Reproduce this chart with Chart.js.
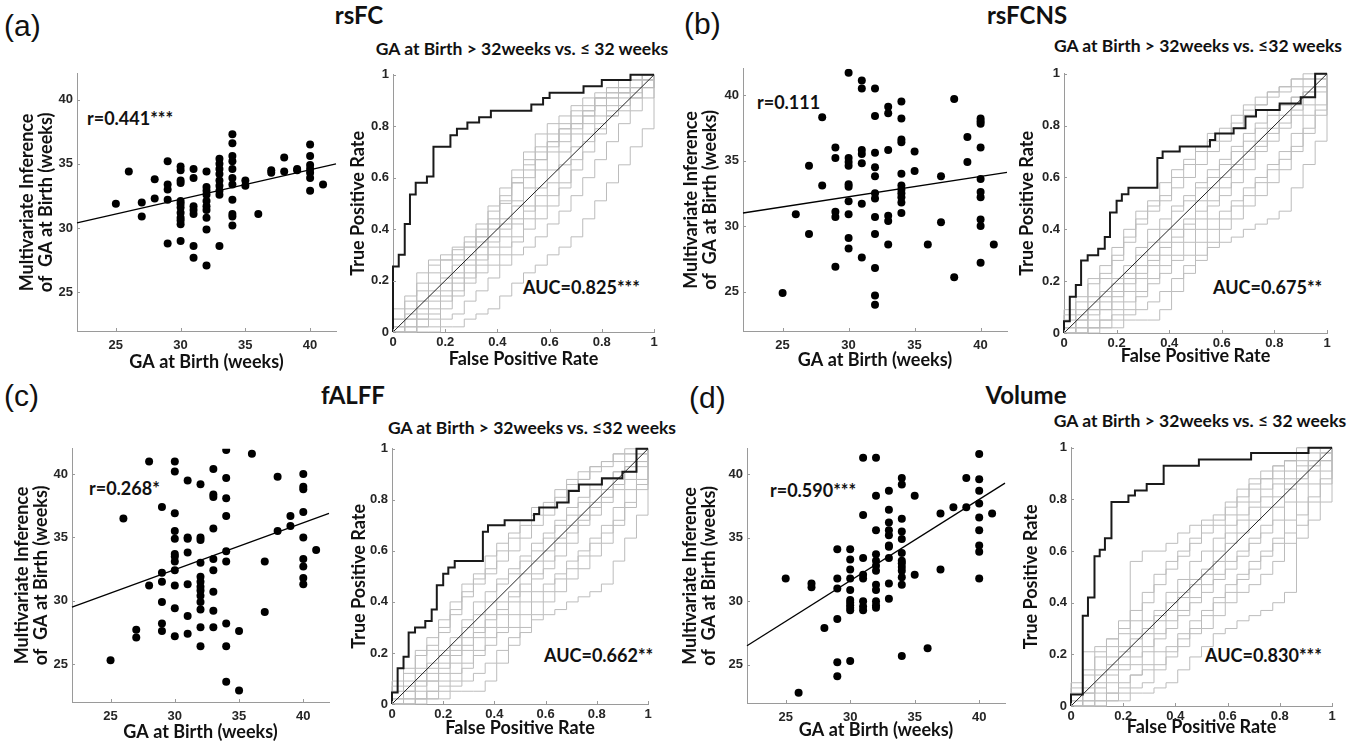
<!DOCTYPE html>
<html>
<head>
<meta charset="utf-8">
<script src="https://cdn.jsdelivr.net/npm/chart.js@4.4.1/dist/chart.umd.min.js"></script>
<style>
  html, body { margin:0; padding:0; background:#fff; }
  body { width:1363px; height:743px; position:relative; overflow:hidden; }
  .t { position:absolute; white-space:nowrap; color:#111; line-height:1; }
  .lab { font: 30px "Liberation Sans", Arial, sans-serif; transform: translateY(-50%); }
  .big { font: bold 24px Lato, "Noto Sans", sans-serif; transform: translate(-50%, -50%); }
  .sub { font: bold 17.5px Lato, "Noto Sans", sans-serif; transform: translate(-50%, -50%); }
  .ann { font: bold 18px Lato, "Noto Sans", sans-serif; transform: translateY(-50%); }
</style>
</head>
<body>
<div class="t lab" style="left:4px;top:26px">(a)</div>
<div class="t lab" style="left:684px;top:24px">(b)</div>
<div class="t lab" style="left:4px;top:396px">(c)</div>
<div class="t lab" style="left:689px;top:398px">(d)</div>

<div class="t big" style="left:359px;top:14px">rsFC</div>
<div class="t big" style="left:1027px;top:14px">rsFCNS</div>
<div class="t big" style="left:353px;top:394px">fALFF</div>
<div class="t big" style="left:1026px;top:394px">Volume</div>

<div class="t sub" style="left:522px;top:48px">GA at Birth &gt; 32weeks vs. ≤ 32 weeks</div>
<div class="t sub" style="left:1198px;top:45px">GA at Birth &gt; 32weeks vs. ≤32 weeks</div>
<div class="t sub" style="left:532px;top:427px">GA at Birth &gt; 32weeks vs. ≤32 weeks</div>
<div class="t sub" style="left:1200px;top:420px">GA at Birth &gt; 32weeks vs. ≤ 32 weeks</div>

<div class="t ann" style="left:87px;top:118px">r=0.441***</div>
<div class="t ann" style="left:757px;top:102px">r=0.111</div>
<div class="t ann" style="left:89px;top:488px">r=0.268*</div>
<div class="t ann" style="left:770px;top:490px">r=0.590***</div>

<div class="t ann" style="left:523px;top:287px">AUC=0.825***</div>
<div class="t ann" style="left:1213px;top:287px">AUC=0.675**</div>
<div class="t ann" style="left:544px;top:655px">AUC=0.662**</div>
<div class="t ann" style="left:1205px;top:655px">AUC=0.830***</div>

<script>
// ---------------- data ----------------
const gaValues = [25,26,27,28,29,30,31,32,33,34,35,36,37,38,39,40,41];
const gaTicks = [25, 30, 35, 40];
const rateTicks = [0, 0.2, 0.4, 0.6, 0.8, 1];
const fitX = [22, 42];

// predicted GA grouped by actual GA at birth (one inner list per value in gaValues)
const predA = [
  [31.9],[34.4],[32.0,30.9],[33.8,32.3],[35.2,33.4,33.0,32.2,28.8],
  [34.8,34.5,33.7,33.5,32.1,31.9,31.6,31.2,30.8,30.6,30.3,29.0],
  [34.6,33.9,31.7,31.4,31.1,28.6,27.7],
  [34.4,33.2,32.9,32.6,32.1,31.7,31.4,30.8,29.9,27.1],
  [35.4,35.0,34.6,34.2,33.7,33.3,32.9,32.6,28.6],
  [37.3,36.6,35.6,35.2,34.6,33.9,33.4,32.2,31.1,30.9,30.2],
  [33.7,33.3],[31.1],[34.5,34.3],[35.5,34.4],[34.6,34.5],
  [36.5,35.6,34.9,34.6,34.3,33.9,32.9],[33.4]
];
const fitA = [30.4, 35.0];

const predB = [
  [24.9],[30.9],[34.6,29.4],[38.3,33.1],[36.0,35.2,31.1,30.7,26.9],
  [41.7,35.2,34.9,34.6,33.2,33.0,31.9,30.9,29.1,28.3],
  [41.1,40.5,35.8,35.5,34.8,31.7,27.6],
  [40.5,38.4,35.6,34.5,33.8,32.5,32.1,30.7,29.4,26.8,24.7,24.0],
  [39.1,38.6,35.8,30.8,30.4,28.6],
  [39.5,38.2,36.6,36.4,34.0,33.1,32.8,32.5,32.2,31.8,31.0],
  [35.7,34.2],[28.6],[33.8,30.3],[39.7,26.1],[36.8,34.9],
  [38.2,38.0,37.8,36.0,33.6,32.6,32.2,30.5,30.0,27.2],[28.6]
];
const fitB = [31.0, 34.1];

const predC = [
  [25.3],[36.5],[27.7,27.1],[41.0,31.2],[37.4,32.2,31.5,29.9,28.2,27.6],
  [41.0,40.2,36.9,35.5,34.9,33.7,33.5,33.1,32.4,31.2,29.4,27.2],
  [39.5,35.0,34.9,33.8,31.3,28.8,27.4],
  [39.2,35.0,34.8,33.0,31.9,31.5,31.1,30.8,30.4,29.9,29.3,27.9,26.4],
  [40.4,38.4,38.2,35.7,33.3,32.4,30.7,29.2,27.9],
  [41.9,39.7,38.1,36.7,33.9,33.1,28.2,26.4,23.6],
  [27.6,22.9],[41.6],[33.1,29.1],[39.8,35.5],[36.7,35.9],
  [40.0,39.0,38.8,37.0,35.0,33.3,32.7,31.8,31.3],[34.0]
];
const fitC = [29.5, 36.9];

const predD = [
  [31.8],[22.8],[31.4,31.1],[27.9],[34.1,31.8,31.0,28.6,25.2,24.1],
  [34.1,33.3,32.5,31.8,30.9,30.1,29.9,29.7,29.5,29.3,25.3],
  [41.3,36.8,33.4,32.1,31.8,30.0,29.6,29.3],
  [41.3,38.3,35.6,33.7,33.2,32.8,32.4,31.3,30.9,30.0,29.7,29.5],
  [38.7,37.2,36.2,35.6,35.2,34.4,34.3,33.4,31.4,30.2],
  [39.7,39.2,36.5,35.5,34.9,33.8,33.2,33.0,32.7,32.4,31.9,31.3,25.7],
  [38.3,32.1],[26.3],[36.9,32.5],[37.4],[39.7,37.4],
  [41.6,39.6,38.7,37.7,36.6,35.6,34.4,33.9,31.8],[36.9]
];
const fitD = [26.5, 39.3];

// ROC curves: at each false-positive rate the curve rises to the listed true-positive rate
const rocFprA = [0,0.022,0.045,0.065,0.087,0.13,0.155,0.22,0.245,0.285,0.33,0.375,0.53,0.575,0.6,0.73,0.8,0.91];
const rocTprA = [0.255,0.30,0.42,0.535,0.58,0.605,0.72,0.765,0.79,0.815,0.835,0.86,0.885,0.91,0.93,0.955,0.98,1.0];
const rocFprB = [0,0.022,0.045,0.065,0.09,0.13,0.155,0.175,0.2,0.22,0.245,0.355,0.375,0.44,0.555,0.575,0.645,0.69,0.73,0.82,0.9,0.955];
const rocTprB = [0.045,0.14,0.185,0.28,0.30,0.325,0.37,0.465,0.51,0.535,0.56,0.675,0.70,0.72,0.745,0.77,0.79,0.835,0.86,0.885,0.91,1.0];
const rocFprC = [0,0.022,0.045,0.065,0.09,0.13,0.155,0.175,0.2,0.22,0.245,0.355,0.375,0.44,0.555,0.575,0.645,0.69,0.73,0.82,0.9,0.955];
const rocTprC = [0.045,0.14,0.185,0.28,0.30,0.325,0.37,0.465,0.51,0.535,0.56,0.675,0.70,0.72,0.745,0.77,0.79,0.835,0.86,0.885,0.91,1.0];
const rocFprD = [0,0.045,0.065,0.09,0.11,0.13,0.155,0.22,0.245,0.29,0.355,0.49,0.69,0.91];
const rocTprD = [0.045,0.35,0.42,0.58,0.605,0.65,0.79,0.815,0.835,0.86,0.93,0.955,0.98,1.0];
const diagX = [0, 1];
const diagY = [0, 1];

// permutation (null) ROC curves: TPR reached at each FPR of this lattice
const fprGrid = [0,0.045,0.091,0.136,0.182,0.227,0.273,0.318,0.364,0.409,0.455,0.5,0.545,0.591,0.636,0.682,0.727,0.773,0.818,0.864,0.909,0.955,1];
const nullA = [
  [0.09,0.14,0.23,0.28,0.30,0.32,0.35,0.37,0.42,0.50,0.60,0.70,0.77,0.81,0.84,0.88,0.91,0.93,0.95,0.98,1,1,1],
  [0.05,0.12,0.19,0.26,0.28,0.33,0.37,0.42,0.49,0.56,0.63,0.67,0.70,0.74,0.79,0.84,0.86,0.91,0.95,0.98,0.98,1,1],
  [0.05,0.09,0.16,0.23,0.28,0.30,0.33,0.37,0.44,0.51,0.58,0.65,0.72,0.77,0.81,0.86,0.88,0.91,0.93,0.95,0.98,1,1],
  [0.02,0.05,0.12,0.16,0.21,0.26,0.30,0.35,0.40,0.44,0.51,0.60,0.67,0.74,0.79,0.81,0.86,0.91,0.93,0.95,0.98,1,1],
  [0.02,0.07,0.12,0.19,0.23,0.28,0.33,0.40,0.47,0.53,0.58,0.63,0.67,0.72,0.77,0.81,0.84,0.88,0.91,0.93,0.95,0.98,1],
  [0,0.05,0.09,0.14,0.19,0.23,0.28,0.33,0.37,0.42,0.49,0.56,0.63,0.70,0.74,0.79,0.84,0.88,0.91,0.93,0.95,0.98,1],
  [0,0.02,0.07,0.12,0.16,0.21,0.26,0.30,0.35,0.40,0.44,0.49,0.56,0.63,0.70,0.77,0.81,0.84,0.88,0.93,0.95,0.98,1],
  [0,0.02,0.05,0.09,0.14,0.19,0.23,0.28,0.33,0.37,0.42,0.47,0.53,0.58,0.65,0.72,0.77,0.81,0.86,0.91,0.93,0.95,0.98],
  [0,0,0.05,0.07,0.12,0.16,0.21,0.26,0.30,0.33,0.37,0.44,0.49,0.53,0.58,0.67,0.74,0.79,0.84,0.86,0.91,0.95,0.98],
  [0,0,0.02,0.05,0.09,0.14,0.19,0.23,0.26,0.30,0.35,0.40,0.44,0.49,0.56,0.63,0.70,0.77,0.84,0.88,0.91,0.95,0.95],
  [0,0,0.02,0.02,0.05,0.07,0.12,0.16,0.21,0.26,0.30,0.33,0.37,0.42,0.47,0.53,0.60,0.67,0.74,0.81,0.86,0.91,0.93],
  [0,0,0,0,0.02,0.02,0.05,0.07,0.09,0.14,0.19,0.23,0.26,0.30,0.33,0.37,0.44,0.51,0.58,0.65,0.72,0.79,0.86]
];
const nullBC = [
  [0.09,0.14,0.21,0.26,0.33,0.40,0.47,0.51,0.58,0.63,0.67,0.72,0.77,0.79,0.84,0.88,0.91,0.93,0.95,0.98,1,1,1],
  [0.07,0.12,0.19,0.23,0.30,0.37,0.44,0.49,0.53,0.60,0.65,0.70,0.74,0.77,0.81,0.86,0.88,0.93,0.95,0.98,0.98,1,1],
  [0.05,0.09,0.14,0.21,0.28,0.35,0.42,0.47,0.51,0.56,0.60,0.65,0.70,0.74,0.79,0.84,0.88,0.91,0.93,0.95,0.98,1,1],
  [0.02,0.07,0.12,0.16,0.21,0.26,0.33,0.40,0.44,0.49,0.53,0.58,0.63,0.67,0.72,0.77,0.81,0.86,0.88,0.91,0.95,0.98,1],
  [0.02,0.05,0.09,0.14,0.19,0.23,0.30,0.35,0.40,0.47,0.51,0.56,0.60,0.65,0.70,0.74,0.79,0.84,0.88,0.91,0.93,0.98,1],
  [0,0.05,0.09,0.12,0.16,0.21,0.26,0.30,0.35,0.40,0.44,0.51,0.56,0.60,0.65,0.70,0.74,0.79,0.84,0.88,0.93,0.95,1],
  [0,0.02,0.07,0.09,0.12,0.16,0.21,0.28,0.33,0.37,0.42,0.47,0.51,0.56,0.63,0.67,0.72,0.77,0.81,0.86,0.91,0.95,0.98],
  [0,0.02,0.05,0.09,0.14,0.19,0.23,0.26,0.30,0.35,0.40,0.44,0.49,0.53,0.58,0.63,0.70,0.74,0.79,0.84,0.88,0.93,0.95],
  [0,0,0.02,0.05,0.09,0.12,0.16,0.21,0.26,0.30,0.35,0.40,0.44,0.47,0.51,0.56,0.60,0.65,0.70,0.77,0.84,0.88,0.91],
  [0,0,0.02,0.05,0.07,0.09,0.14,0.19,0.23,0.28,0.30,0.35,0.40,0.44,0.49,0.53,0.58,0.63,0.67,0.72,0.79,0.86,0.93],
  [0,0,0,0.02,0.05,0.07,0.09,0.12,0.16,0.21,0.26,0.30,0.35,0.40,0.44,0.49,0.53,0.58,0.63,0.70,0.77,0.84,0.88],
  [0,0,0.02,0.02,0.02,0.05,0.05,0.05,0.09,0.16,0.23,0.28,0.33,0.35,0.37,0.40,0.42,0.44,0.47,0.56,0.65,0.74,0.86]
];
const nullD = [
  [0.09,0.21,0.23,0.26,0.33,0.56,0.60,0.60,0.63,0.67,0.70,0.72,0.74,0.79,0.84,0.88,0.91,0.93,0.95,1,1,1,1],
  [0.07,0.14,0.21,0.26,0.30,0.37,0.44,0.51,0.56,0.60,0.65,0.70,0.72,0.77,0.81,0.86,0.88,0.93,0.95,0.98,1,1,1],
  [0.05,0.12,0.19,0.23,0.28,0.33,0.40,0.47,0.53,0.58,0.63,0.67,0.70,0.74,0.79,0.84,0.88,0.91,0.95,0.98,1,1,1],
  [0.02,0.07,0.14,0.19,0.23,0.28,0.33,0.37,0.44,0.49,0.56,0.60,0.65,0.70,0.74,0.79,0.84,0.88,0.91,0.95,0.98,1,1],
  [0.02,0.05,0.12,0.16,0.21,0.26,0.30,0.35,0.40,0.44,0.49,0.53,0.60,0.67,0.72,0.77,0.81,0.86,0.88,0.93,0.95,0.98,1],
  [0,0.05,0.09,0.14,0.19,0.23,0.28,0.33,0.37,0.42,0.47,0.51,0.56,0.63,0.67,0.72,0.77,0.81,0.86,0.91,0.95,0.98,1],
  [0,0.02,0.07,0.12,0.16,0.19,0.23,0.28,0.33,0.37,0.42,0.47,0.51,0.56,0.60,0.65,0.70,0.77,0.84,0.88,0.93,0.95,0.98],
  [0,0.02,0.05,0.09,0.14,0.16,0.21,0.26,0.30,0.35,0.40,0.44,0.49,0.53,0.58,0.63,0.67,0.72,0.79,0.86,0.91,0.95,0.98],
  [0,0,0.02,0.05,0.07,0.12,0.16,0.21,0.23,0.28,0.33,0.37,0.42,0.47,0.51,0.56,0.60,0.65,0.72,0.79,0.86,0.91,0.95],
  [0,0,0.02,0.05,0.09,0.12,0.14,0.16,0.21,0.26,0.30,0.35,0.40,0.44,0.49,0.53,0.58,0.63,0.67,0.74,0.81,0.88,0.93],
  [0,0,0,0.02,0.05,0.07,0.09,0.14,0.19,0.23,0.28,0.30,0.35,0.40,0.44,0.47,0.51,0.56,0.63,0.70,0.79,0.86,0.91],
  [0,0,0,0.02,0.02,0.05,0.05,0.07,0.09,0.14,0.19,0.23,0.28,0.30,0.33,0.35,0.37,0.40,0.44,0.65,0.72,0.79,0.90]
];

// ---------------- rendering ----------------
const PAD_T = 10, PAD_R = 12, TICK_IN = 3;
const AXIS = '#9a9a9a', TICK = '#262626', INK = '#111111';
const tickFont = { family: '"Liberation Sans", Arial, sans-serif', size: 13, weight: 'bold' };
const titleFont = lh => ({ family: 'Lato, "Noto Sans", sans-serif', size: 18, weight: 'bold', lineHeight: lh });

function makeCanvas(g) {
  const c = document.createElement('canvas');
  const left = g.L - g.yw, top = g.T - PAD_T;
  const w = g.yw + (g.R - g.L) + PAD_R, h = PAD_T + (g.B - g.T) + g.xh;
  c.width = w; c.height = h;
  c.style.cssText = 'position:absolute;left:' + left + 'px;top:' + top + 'px;width:' + w + 'px;height:' + h + 'px';
  document.body.appendChild(c);
  return c;
}

// inward tick marks (MATLAB style), placed with the chart's own scales
const inwardTicks = {
  id: 'inwardTicks',
  afterDatasetsDraw(chart) {
    const { ctx, chartArea: a, scales } = chart;
    ctx.save();
    ctx.strokeStyle = AXIS; ctx.lineWidth = 1;
    ctx.beginPath();
    scales.x.ticks.forEach(t => {
      const px = Math.round(scales.x.getPixelForValue(t.value)) + 0.5;
      ctx.moveTo(px, a.bottom); ctx.lineTo(px, a.bottom - TICK_IN);
    });
    scales.y.ticks.forEach(t => {
      const py = Math.round(scales.y.getPixelForValue(t.value)) + 0.5;
      ctx.moveTo(a.left, py); ctx.lineTo(a.left + TICK_IN, py);
    });
    ctx.stroke();
    ctx.restore();
  }
};

function buildScales(g, xr, yr, xt, yt, xTitle, yTitle, yLH, tickPadX) {
  const xlh = 18 * 1.2, ylh = 18 * yLH;
  return {
    x: {
      type: 'linear', min: xr[0], max: xr[1],
      afterBuildTicks: s => { s.ticks = xt.map(v => ({ value: v })); },
      afterFit: s => { s.height = g.xh; },
      grid: { display: false, drawTicks: false },
      border: { display: true, color: AXIS, width: 1 },
      ticks: { font: tickFont, color: TICK, padding: tickPadX, autoSkip: false, maxRotation: 0, callback: v => String(v) },
      title: { display: true, text: xTitle, font: titleFont(1.2), color: INK,
               padding: { top: 0, bottom: g.xh - g.xTitle - xlh / 2 } }
    },
    y: {
      type: 'linear', min: yr[0], max: yr[1],
      afterBuildTicks: s => { s.ticks = yt.map(v => ({ value: v })); },
      afterFit: s => { s.width = g.yw; },
      grid: { display: false, drawTicks: false },
      border: { display: true, color: AXIS, width: 1 },
      ticks: { font: tickFont, color: TICK, padding: 4, autoSkip: false, callback: v => String(v) },
      title: { display: true, text: yTitle, font: titleFont(yLH), color: INK,
               padding: { top: g.yw - g.yTitle - ylh / 2, bottom: 0 } }
    }
  };
}

const baseOpts = {
  responsive: false, animation: false, events: [],
  layout: { padding: { top: PAD_T, right: PAD_R, left: 0, bottom: 0 } },
  plugins: { legend: { display: false }, tooltip: { enabled: false } }
};

function scatterPanel(pred, fit, g) {
  const pts = [];
  pred.forEach((list, i) => list.forEach(v => pts.push({ x: gaValues[i], y: v })));
  const line = fitX.map((x, i) => ({ x: x, y: fit[i] }));
  new Chart(makeCanvas(g), {
    type: 'scatter',
    data: { datasets: [
      { data: line, showLine: true, borderColor: '#000', borderWidth: 1.3, pointRadius: 0, clip: 2 },
      { data: pts, pointRadius: 4, pointBackgroundColor: '#000', pointBorderWidth: 0, showLine: false }
    ] },
    options: Object.assign({}, baseOpts, {
      scales: buildScales(g, [22, 42], [22, 42], gaTicks, gaTicks,
        'GA at Birth (weeks)', ['Multivariate Inference', 'of  GA at Birth (weeks)'], 1.08, 7)
    }),
    plugins: [inwardTicks]
  });
}

function stepPath(fpr, tpr) {
  const pts = [{ x: 0, y: 0 }];
  for (let i = 0; i < fpr.length; i++) {
    pts.push({ x: fpr[i], y: i ? tpr[i - 1] : 0 });
    pts.push({ x: fpr[i], y: tpr[i] });
  }
  pts.push({ x: 1, y: tpr[tpr.length - 1] });
  pts.push({ x: 1, y: 1 });
  return pts;
}

function rocPanel(fpr, tpr, nulls, g) {
  const lineDs = (data, color, width) => ({ data: data, showLine: true, borderColor: color, borderWidth: width,
    pointRadius: 0, borderJoinStyle: 'miter', tension: 0, clip: 3 });
  const ds = [
    lineDs(stepPath(fpr, tpr), '#1a1a1a', 2),
    lineDs(diagX.map((x, i) => ({ x: x, y: diagY[i] })), '#222', 1)
  ];
  nulls.forEach(c => ds.push(lineDs(stepPath(fprGrid, c), '#bcbcbc', 1)));
  new Chart(makeCanvas(g), {
    type: 'scatter',
    data: { datasets: ds },
    options: Object.assign({}, baseOpts, {
      scales: buildScales(g, [0, 1], [0, 1], rateTicks, rateTicks,
        'False Positive Rate', 'True Positive Rate', 1.2, 3)
    }),
    plugins: [inwardTicks]
  });
}

scatterPanel(predA, fitA, { L: 77, T: 72, R: 336, B: 331, yw: 70, xh: 45, xTitle: 31, yTitle: 50 });
scatterPanel(predB, fitB, { L: 743, T: 67, R: 1007, B: 331, yw: 70, xh: 45, xTitle: 29, yTitle: 52 });
scatterPanel(predC, fitC, { L: 72, T: 447, R: 329, B: 702, yw: 70, xh: 45, xTitle: 30, yTitle: 50 });
scatterPanel(predD, fitD, { L: 747, T: 447, R: 1005, B: 703, yw: 70, xh: 45, xTitle: 27, yTitle: 57 });

rocPanel(rocFprA, rocTprA, nullA, { L: 393, T: 73, R: 654, B: 332, yw: 55, xh: 45, xTitle: 27, yTitle: 35 });
rocPanel(rocFprB, rocTprB, nullBC, { L: 1064, T: 72, R: 1327, B: 333, yw: 55, xh: 45, xTitle: 23, yTitle: 37 });
rocPanel(rocFprC, rocTprC, nullBC, { L: 392, T: 447, R: 648, B: 704, yw: 55, xh: 45, xTitle: 24, yTitle: 33 });
rocPanel(rocFprD, rocTprD, nullD, { L: 1071, T: 446, R: 1332, B: 706, yw: 55, xh: 45, xTitle: 21, yTitle: 40 });
</script>
</body>
</html>
